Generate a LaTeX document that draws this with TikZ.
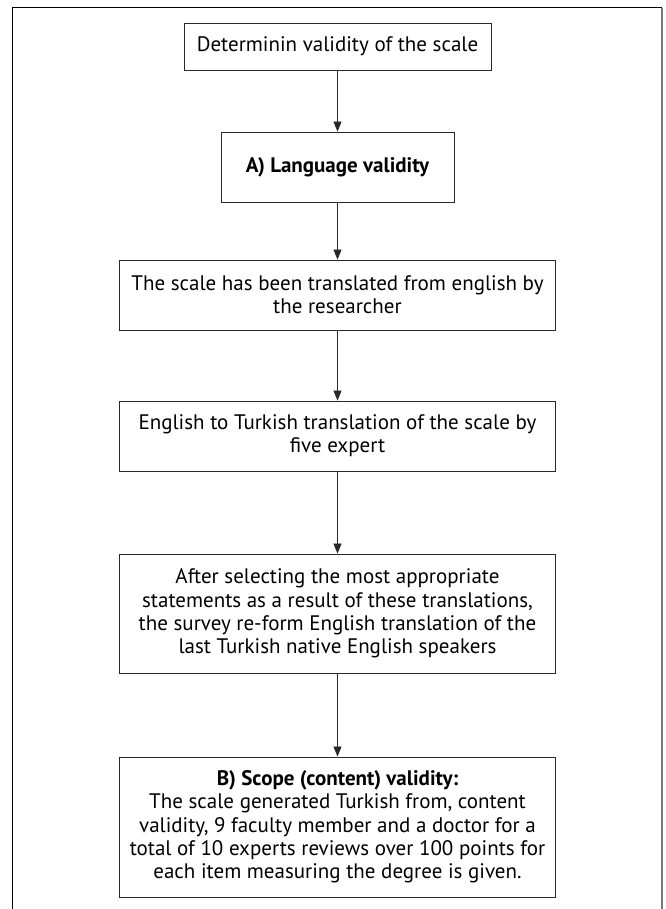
\documentclass[tikz,border=0pt]{standalone}
\usepackage{fontspec}
\setmainfont{PT Sans}
\usepackage{tikz}
\usetikzlibrary{
	arrows.meta,
	positioning
}
\usepackage{xcolor}
\definecolor{framegray}{RGB}{120,120,120}
\definecolor{linegray}{RGB}{40,40,40}

\begin{document}
\begin{tikzpicture}[x=1pt,y=-1pt,
		stepbox/.style={draw=linegray, line width=0.9pt, align=center, inner sep=0pt,
			font=\fontsize{21}{23.3}\selectfont},
		flow/.style={draw=linegray, line width=0.8pt, -{Triangle[length=10pt,width=8pt]}}
	]
		
		\useasboundingbox (0,0) rectangle (665,909);
		
		% outer frame, open at the bottom
		\draw[line width=1pt] (12,909) -- (12,8) -- (662,8);
		\draw[framegray, line width=2pt] (662,8) -- (662,909);
		
		\node[stepbox, minimum width=307pt, minimum height=47pt] (determine) at (337.5,46.5)
		{Determinin validity of the scale};
		
		\node[stepbox, minimum width=233pt, minimum height=70pt] (language) at (337.5,167)
		{\bfseries A) Language validity};
		
		\node[stepbox, minimum width=436pt, minimum height=70pt] (translated) at (337.5,295)
		{The scale has been translated from english by\\the researcher};
		
		\node[stepbox, minimum width=436pt, minimum height=70pt] (experts) at (337.5,436)
		{English to Turkish translation of the scale by\\five expert};
		
		\node[stepbox, minimum width=436pt, minimum height=119pt] (selecting) at (337.5,613.5)
		{After selecting the most appropriate\\statements as a result of these translations,\\the survey re-form English translation of the\\last Turkish native English speakers};
		
		\node[stepbox, minimum width=436pt, minimum height=140pt] (scope) at (337.5,827)
		{\bfseries B) Scope (content) validity:\\The scale generated Turkish from, content\\validity, 9 faculty member and a doctor for a\\total of 10 experts reviews over 100 points for\\each item measuring the degree is given.};
		
		\draw[flow] (determine) -- (language);
		\draw[flow] (language) -- (translated);
		\draw[flow] (translated) -- (experts);
		\draw[flow] (experts) -- (selecting);
		\draw[flow] (selecting) -- (scope);
		
	\end{tikzpicture}
\end{document}
